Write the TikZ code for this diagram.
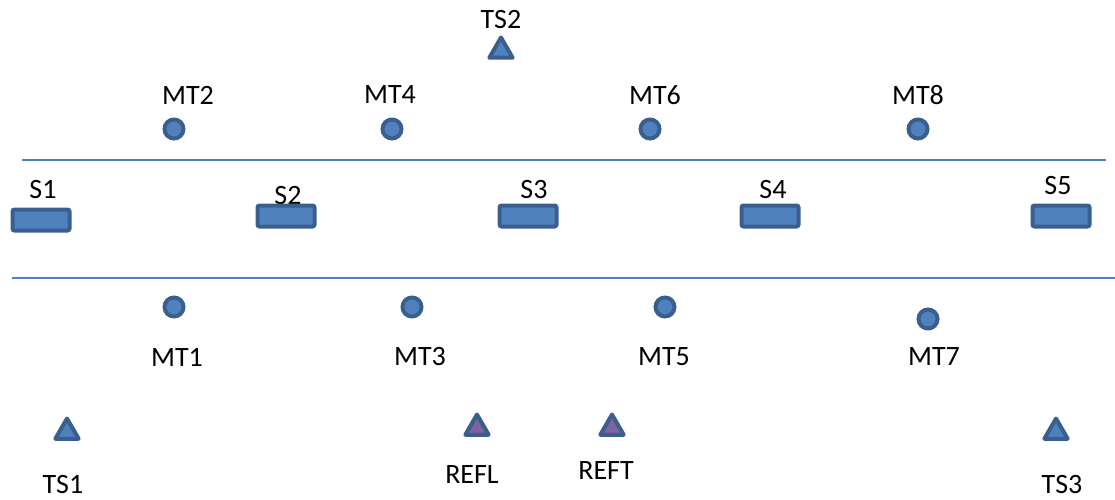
\documentclass[tikz,border=0pt]{standalone}
\usepackage{fontspec}
\setmainfont{Carlito}
\usetikzlibrary{shapes.geometric}
\definecolor{accent}{HTML}{4F81BD}
\definecolor{edge}{HTML}{3A5F8F}
\definecolor{purp}{HTML}{7F62A0}
\tikzset{
  lbl/.style={font=\fontsize{28}{32}\selectfont, inner sep=0pt, text=black},
  mt/.style={circle, draw=edge, fill=accent, line width=4pt, minimum size=19pt, inner sep=0pt},
  station/.style={draw=edge, fill=accent, line width=4pt, rounded corners=2pt, minimum width=57pt, minimum height=21pt, inner sep=0pt},
  tri/.style={regular polygon, regular polygon sides=3, draw=edge, fill=accent, line width=4pt, line join=round, minimum size=27pt, inner sep=0pt},
  reftri/.style={tri, fill=purp},
  rail/.style={draw=accent, line width=1.6pt}
}
\begin{document}
\begin{tikzpicture}[x=1pt,y=-1pt]
\useasboundingbox (0,0) rectangle (1115,500);
% lines
\coordinate (t1) at (22,160); \coordinate (t2) at (1106,160);
\coordinate (b1) at (12,278); \coordinate (b2) at (1115,278);
\draw[rail] (t1) -- (t2);
\draw[rail] (b1) -- (b2);
% top
\node[lbl] (lts2) at (501,20) {TS2};
\node[tri] (ts2) at (501,51) {};
\node[lbl] (lmt2) at (188,95) {MT2};
\node[mt] (mt2) at (174,129) {};
\node[lbl] (lmt4) at (390,95) {MT4};
\node[mt] (mt4) at (392,129) {};
\node[lbl] (lmt6) at (655,95) {MT6};
\node[mt] (mt6) at (650,129) {};
\node[lbl] (lmt8) at (918,95) {MT8};
\node[mt] (mt8) at (918,129) {};
% stations
\node[lbl] (ls1) at (43,190) {S1};
\node[station] (s1) at (41,220) {};
\node[lbl] (ls2) at (288,196) {S2};
\node[station] (s2) at (286,216) {};
\node[lbl] (ls3) at (534,190) {S3};
\node[station] (s3) at (528,216) {};
\node[lbl] (ls4) at (773,190) {S4};
\node[station] (s4) at (770,216) {};
\node[lbl] (ls5) at (1058,186) {S5};
\node[station] (s5) at (1061,216) {};
% bottom
\node[mt] (mt1) at (174,307) {};
\node[lbl] (lmt1) at (177,357) {MT1};
\node[mt] (mt3) at (412,307) {};
\node[lbl] (lmt3) at (420,357) {MT3};
\node[mt] (mt5) at (665,307) {};
\node[lbl] (lmt5) at (664,357) {MT5};
\node[mt] (mt7) at (928,319) {};
\node[lbl] (lmt7) at (934,357) {MT7};
\node[tri] (ts1) at (67,432) {};
\node[lbl] (lts1) at (63,485) {TS1};
\node[reftri] (refl) at (477,428) {};
\node[lbl] (lrefl) at (472,475) {REFL};
\node[reftri] (reft) at (612,428) {};
\node[lbl] (lreft) at (606,471) {REFT};
\node[tri] (ts3) at (1056,432) {};
\node[lbl] (lts3) at (1062,485) {TS3};
\end{tikzpicture}
\end{document}
